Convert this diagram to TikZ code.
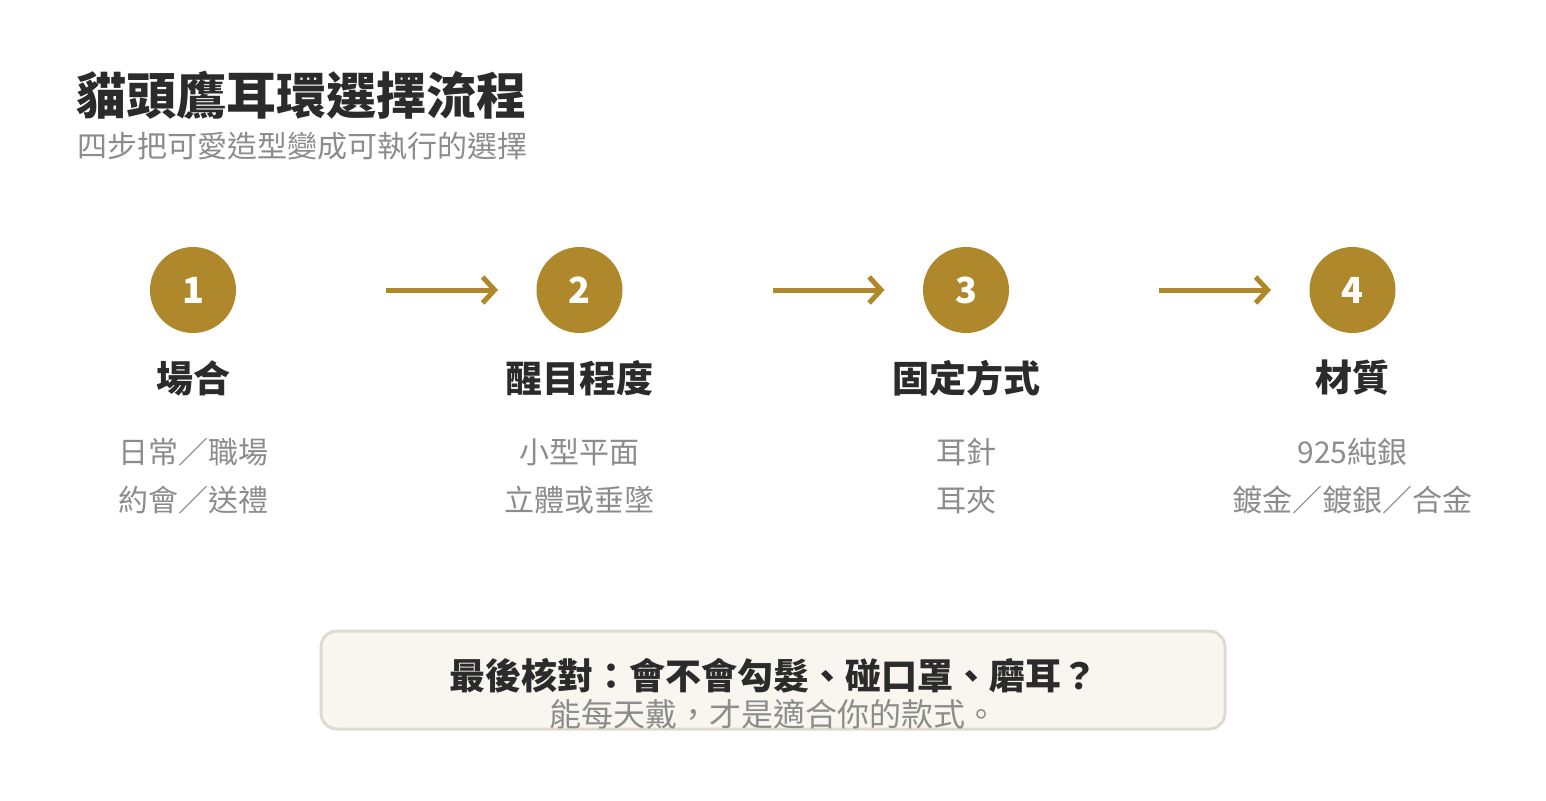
\documentclass[tikz,border=0pt]{standalone}
\usepackage{fontspec}
\setmainfont{Noto Sans CJK TC}
\usepackage{tikz}
\usetikzlibrary{positioning,arrows.meta,calc}
\definecolor{gold}{HTML}{B0882C}
\definecolor{ink}{HTML}{2B2B2B}
\definecolor{soft}{HTML}{8C8C8C}
\definecolor{paper}{HTML}{F8F6EF}
\definecolor{rim}{HTML}{DEDAD0}
\tikzset{
    on grid,
    node distance=386.5pt,
    headline/.style = {
        anchor=west,
        inner sep=0pt,
        text=ink,
        font=\fontsize{50}{50}\selectfont\bfseries
    },
    subline/.style = {
        anchor=west,
        inner sep=0pt,
        text=soft,
        font=\fontsize{30}{30}\selectfont
    },
    stepnum/.style = {
        shape=circle,
        fill=gold,
        minimum size=86pt,
        inner sep=0pt,
        text=white,
        font=\fontsize{36}{36}\selectfont\bfseries
    },
    steptitle/.style = {
        inner sep=0pt,
        text=ink,
        font=\fontsize{37}{37}\selectfont\bfseries
    },
    stepdesc/.style = {
        inner sep=0pt,
        text=soft,
        font=\fontsize{30}{30}\selectfont
    },
    notebox/.style = {
        draw=rim,
        fill=paper,
        line width=3pt,
        rounded corners=16pt,
        minimum width=904pt,
        minimum height=98pt
    },
    flow/.style = {
        draw=gold,
        line width=5pt,
        -{Straight Barb[length=12pt,width=26pt]}
    },
}

\begin{document}
\begin{tikzpicture}[x=1pt,y=-1pt]
        \useasboundingbox (0,0) rectangle (1546,800);

        \node[headline] (title) at (76,95) {貓頭鷹耳環選擇流程};
        \node[subline] (subtitle) at (77,146) {四步把可愛造型變成可執行的選擇};

        \node[stepnum] (step1) at (193,290) {1};
        \node[stepnum, right of=step1] (step2) {2};
        \node[stepnum, right of=step2] (step3) {3};
        \node[stepnum, right of=step3] (step4) {4};

        \coordinate[right=193pt of step1] (arr1s);
        \coordinate[right=305pt of step1] (arr1e);
        \coordinate[right=193pt of step2] (arr2s);
        \coordinate[right=305pt of step2] (arr2e);
        \coordinate[right=193pt of step3] (arr3s);
        \coordinate[right=305pt of step3] (arr3e);

        \path[flow] (arr1s) -- (arr1e);
        \path[flow] (arr2s) -- (arr2e);
        \path[flow] (arr3s) -- (arr3e);

        \node[steptitle, below of=step1, node distance=88pt] (name1) {場合};
        \node[steptitle, below of=step2, node distance=88pt] (name2) {醒目程度};
        \node[steptitle, below of=step3, node distance=88pt] (name3) {固定方式};
        \node[steptitle, below of=step4, node distance=88pt] (name4) {材質};

        \node[stepdesc, below of=name1, node distance=74pt] (desc1a) {日常／職場};
        \node[stepdesc, below of=desc1a, node distance=48pt] (desc1b) {約會／送禮};
        \node[stepdesc, below of=name2, node distance=74pt] (desc2a) {小型平面};
        \node[stepdesc, below of=desc2a, node distance=48pt] (desc2b) {立體或垂墜};
        \node[stepdesc, below of=name3, node distance=74pt] (desc3a) {耳針};
        \node[stepdesc, below of=desc3a, node distance=48pt] (desc3b) {耳夾};
        \node[stepdesc, below of=name4, node distance=74pt] (desc4a) {925純銀};
        \node[stepdesc, below of=desc4a, node distance=48pt] (desc4b) {鍍金／鍍銀／合金};

        % closing check
        \node[notebox] (note) at (773,680) {};
        \node[steptitle, above of=note, node distance=4pt, font=\fontsize{36}{36}\selectfont\bfseries] (check) {最後核對：會不會勾髮、碰口罩、磨耳？};
        \node[stepdesc, below of=note, node distance=34pt, font=\fontsize{32}{32}\selectfont] (hint) {能每天戴，才是適合你的款式。};

    \end{tikzpicture}
\end{document}
